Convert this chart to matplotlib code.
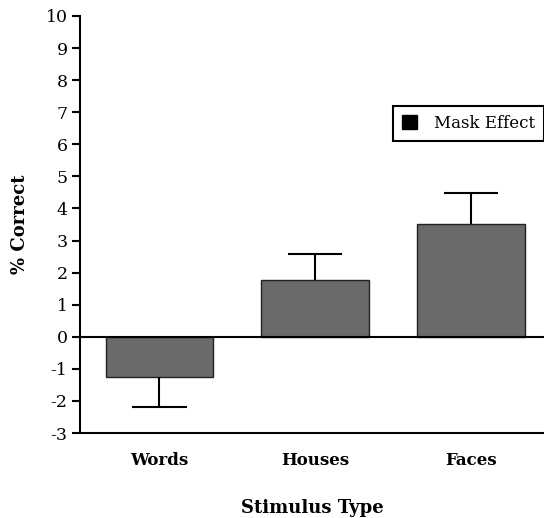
import matplotlib
matplotlib.use("Agg")
import matplotlib.pyplot as plt
from matplotlib.patches import Patch

categories = ["Words", "Houses", "Faces"]
values = [-1.25, 1.78, 3.52]
err_lower = [0.93, 0.0, 0.0]
err_upper = [0.0, 0.81, 0.97]
yticks = list(range(-3, 11))
legend_label = "Mask Effect"

plt.rcParams['font.family'] = ['DejaVu Serif']

fig = plt.figure(figsize=(5.44, 5.18), dpi=100)
ax = fig.add_axes([80/544, 85/518, 1 - 80/544, (433-16)/518])

x = list(range(len(categories)))
ax.bar(x, values, width=0.69, color='#6a6a6a', edgecolor='#222222', linewidth=1.0, zorder=2)

# one-sided error bars (away from zero)
ends = [v - lo + up for v, lo, up in zip(values, err_lower, err_upper)]
ax.vlines(x, values, ends, color='black', lw=1.5, zorder=3)
cap_half = 0.175
ax.hlines(ends, [xi - cap_half for xi in x], [xi + cap_half for xi in x],
          color='black', lw=1.5, zorder=3)
ax.axhline(0, color='black', lw=1.5, zorder=4)

ax.set_xlim(-0.51, 2.47)
ax.set_ylim(-3, 10)
ax.set_yticks(yticks)
ax.set_yticklabels([str(t) for t in yticks], fontsize=12.5)
ax.set_xticks(x)
ax.set_xticklabels(categories, fontsize=12, fontweight='bold')
ax.tick_params(axis='x', length=0, pad=14)
ax.tick_params(axis='y', length=6, width=1.5, direction='out', pad=3)

for s in ['top', 'right']:
    ax.spines[s].set_visible(False)
for s in ['left', 'bottom']:
    ax.spines[s].set_linewidth(1.5)

ax.set_ylabel("% Correct", fontsize=13, fontweight='bold', labelpad=12)
ax.set_xlabel("Stimulus Type", fontsize=13, fontweight='bold', labelpad=21)

leg = ax.legend(handles=[Patch(facecolor='black', edgecolor='black', label=legend_label)],
                loc='upper right', bbox_to_anchor=(1.0, (518-106)/518),
                bbox_transform=fig.transFigure, fontsize=12, fancybox=False,
                edgecolor='black', framealpha=1, borderpad=0.55, handlelength=0.9,
                handleheight=0.9, handletextpad=1.0, borderaxespad=0)
leg.get_frame().set_linewidth(1.5)

fig.savefig("out.png", dpi=100)
